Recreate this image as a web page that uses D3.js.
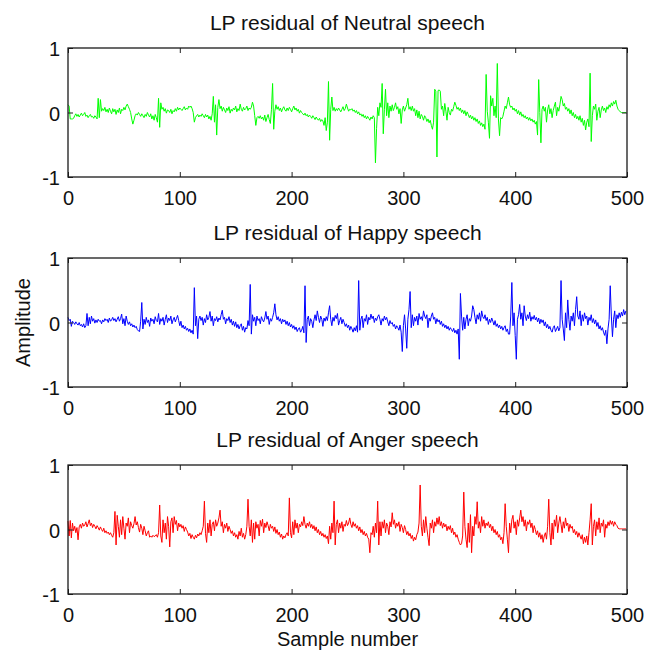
<!DOCTYPE html>
<html>
<head>
<meta charset="utf-8">
<script src="https://cdn.jsdelivr.net/npm/d3@7"></script>
<style>
  html, body { margin: 0; padding: 0; background: #fff; }
  svg { display: block; }
</style>
</head>
<body>
<div id="chart"></div>
<script>
// LP residual samples (one value per sample, 500 each)
const neutral = [
  0.12,0.10,-0.10,-0.10,-0.10,-0.09,
  -0.05,-0.02,-0.06,-0.03,-0.07,-0.04,-0.01,-0.05,-0.03,0.0,-0.06,-0.04,-0.08,-0.05,-0.03,-0.07,-0.06,-0.09,-0.05,-0.07,-0.10,
  0.22,-0.08,0.20,0.02,
  0.06,0.03,0.08,0.01,0.05,0.0,0.07,0.02,-0.02,0.06,0.01,0.05,-0.03,0.04,0.0,0.07,-0.02,0.05,0.03,0.08,0.04,0.10,0.13,0.09,0.05,0.0,-0.10,
  -0.18,-0.12,
  -0.05,-0.02,-0.04,0.0,-0.03,-0.06,-0.02,-0.05,-0.08,-0.03,-0.06,0.0,-0.04,-0.07,-0.02,-0.10,-0.05,-0.12,-0.03,-0.08,
  -0.15,0.22,-0.23,0.15,0.05,
  0.08,0.02,0.06,-0.01,0.04,0.03,0.0,0.05,-0.02,0.03,0.01,0.06,0.02,0.08,0.04,0.07,0.05,0.03,0.06,0.09,0.04,0.07,0.05,0.10,0.08,
  0.10,0.06,0.0,-0.15,-0.08,
  -0.05,-0.03,-0.07,-0.04,-0.06,-0.02,-0.05,-0.08,-0.03,-0.07,-0.04,-0.10,-0.06,-0.12,
  -0.02,0.25,-0.15,0.12,-0.35,0.08,0.20,
  0.06,0.10,0.02,0.08,0.04,0.0,0.07,0.03,0.09,-0.01,0.05,0.02,0.07,0.04,0.10,0.01,0.06,0.03,0.13,0.05,0.02,0.08,0.04,0.06,0.10,0.03,0.07,0.05,0.08,
  0.16,0.10,-0.05,-0.20,-0.08,
  -0.06,-0.09,-0.05,-0.10,-0.07,-0.12,-0.04,-0.14,-0.08,-0.03,-0.11,-0.17,
  0.05,0.45,-0.26,0.02,
  0.12,0.05,0.09,0.03,0.07,0.01,0.06,0.09,0.04,0.02,0.07,0.03,0.08,0.05,0.01,0.06,0.10,0.04,0.07,0.02,
  0.05,-0.01,0.03,0.0,-0.02,-0.04,-0.01,-0.05,-0.03,-0.07,-0.04,-0.06,-0.09,-0.05,-0.08,-0.11,-0.07,-0.10,-0.12,-0.09,-0.14,-0.11,
  -0.13,-0.20,-0.08,-0.28,-0.15,0.48,-0.43,0.05,0.24,0.03,
  0.08,0.02,0.06,0.03,0.07,0.04,0.01,0.05,0.09,0.03,0.06,0.13,0.07,0.02,0.05,0.04,
  0.06,0.02,0.04,0.0,0.03,-0.02,0.01,-0.04,-0.02,-0.06,-0.03,-0.08,-0.05,-0.10,-0.06,-0.09,-0.12,-0.07,-0.10,-0.05,-0.08,
  -0.78,-0.25,0.08,-0.05,0.15,0.08,0.45,-0.33,0.05,0.36,-0.05,0.15,-0.08,0.10,0.02,
  0.12,0.03,0.08,0.15,0.05,0.09,-0.02,0.06,-0.17,0.04,0.10,0.02,0.07,0.12,
  0.22,0.05,
  0.09,0.03,0.10,0.02,0.06,-0.05,0.04,-0.08,0.02,-0.10,-0.03,-0.06,-0.12,-0.05,-0.08,-0.14,-0.10,-0.16,-0.12,-0.20,-0.26,
  -0.15,0.36,0.33,-0.69,0.34,0.35,0.33,0.05,
  0.10,-0.05,0.14,0.02,-0.12,0.08,0.0,-0.04,0.05,0.02,0.09,0.16,0.11,0.05,0.08,0.03,0.07,0.0,0.04,-0.02,
  0.03,-0.05,0.01,-0.03,-0.08,-0.04,-0.10,-0.06,-0.12,-0.08,-0.14,-0.10,-0.17,-0.13,-0.20,-0.16,-0.22,-0.18,-0.26,
  0.59,0.02,-0.15,-0.40,0.26,0.10,0.22,-0.05,0.10,-0.08,0.76,-0.10,-0.36,-0.08,-0.10,-0.06,
  0.02,0.10,0.06,0.15,0.24,0.12,0.08,0.10,0.04,0.07,0.02,0.05,-0.02,0.03,-0.04,0.01,-0.06,-0.03,-0.08,-0.05,
  -0.10,-0.07,-0.12,-0.08,-0.13,-0.10,-0.15,-0.12,-0.18,-0.14,
  -0.35,0.51,0.0,-0.47,0.05,
  0.10,0.02,0.08,-0.15,0.04,0.12,-0.02,0.06,-0.08,0.03,0.10,0.16,-0.05,0.08,0.02,0.12,
  0.25,0.20,
  0.10,0.14,0.05,0.08,0.02,0.06,-0.02,0.04,-0.05,0.0,-0.08,-0.03,-0.10,-0.06,-0.12,-0.05,-0.15,-0.09,-0.20,-0.12,-0.27,-0.15,-0.10,-0.22,
  0.61,-0.45,-0.05,
  0.10,0.05,0.13,-0.12,0.02,0.08,-0.08,0.04,0.10,0.03,0.07,0.0,0.09,0.05,0.12,0.08,0.15,0.10,0.17,0.13,0.19,0.10,
  0.05,0.03,0.01,0.0,0.0,0.0,0.0,0.0
];

const happy = [
  0.08,0.03,0.05,-0.06,0.02,0.0,-0.03,0.01,-0.02,-0.04,0.0,-0.05,-0.03,-0.07,-0.02,-0.08,-0.05,
  0.14,-0.05,0.08,-0.02,0.10,
  0.02,0.06,-0.01,0.04,0.0,0.05,0.02,0.03,-0.02,0.04,0.01,0.06,0.03,0.05,0.0,0.07,0.02,0.04,0.08,0.03,0.06,0.01,0.05,0.09,0.02,0.06,
  0.13,-0.02,0.06,-0.05,0.10,0.02,
  -0.03,0.01,-0.05,-0.02,-0.07,-0.04,-0.08,-0.06,-0.11,-0.13,
  -0.14,0.02,0.31,-0.10,
  0.05,-0.03,0.08,0.0,0.04,-0.06,0.07,0.02,0.05,-0.02,0.09,0.03,0.01,0.14,-0.03,0.06,0.02,0.08,-0.04,0.05,
  0.12,0.0,0.07,0.03,0.10,-0.02,0.04,0.08,0.01,0.06,0.11,0.03,-0.05,0.02,
  -0.08,-0.04,-0.10,-0.06,-0.12,-0.09,-0.14,-0.10,-0.16,-0.12,-0.18,
  0.54,-0.05,0.10,-0.25,0.05,
  0.10,0.03,0.08,-0.04,0.06,0.0,0.12,0.04,0.08,0.17,0.02,0.10,-0.05,0.06,0.03,0.09,0.01,0.07,0.04,0.12,
  0.19,0.05,0.08,-0.02,0.06,0.03,0.09,0.0,0.05,-0.04,0.02,-0.06,0.01,-0.08,-0.03,-0.10,-0.05,-0.02,-0.12,-0.06,
  -0.15,-0.08,-0.10,0.03,-0.05,0.59,-0.18,0.12,0.02,
  0.08,-0.05,0.10,0.03,0.06,-0.02,0.09,0.04,0.01,0.07,0.17,0.05,0.10,-0.03,0.06,0.02,0.08,0.15,0.29,0.12,
  0.04,0.09,0.02,0.06,-0.02,0.05,0.01,0.04,-0.03,0.02,-0.05,0.0,-0.07,-0.03,-0.09,-0.05,-0.11,-0.07,-0.14,-0.10,
  -0.08,-0.15,-0.12,-0.06,-0.16,
  0.57,-0.31,0.05,
  0.10,-0.05,0.06,0.02,-0.08,0.04,0.12,0.03,0.18,0.08,0.0,0.10,0.05,-0.06,0.07,0.02,0.09,0.03,0.15,0.26,
  0.05,-0.05,0.08,0.02,0.11,0.06,0.14,-0.04,0.03,0.08,-0.02,0.05,0.0,-0.06,-0.02,-0.08,-0.04,-0.12,-0.06,-0.10,
  -0.15,-0.08,-0.13,-0.05,
  -0.15,0.65,-0.12,0.05,
  0.10,-0.08,0.06,0.02,0.12,-0.03,0.08,0.04,0.13,0.06,0.10,0.0,0.07,0.03,0.09,0.12,0.05,-0.04,0.06,0.02,
  0.10,0.04,0.08,0.01,-0.05,0.03,-0.02,0.0,-0.06,-0.03,-0.10,-0.05,-0.08,-0.12,-0.04,-0.15,
  -0.45,-0.05,0.12,-0.10,-0.40,0.05,0.20,0.48,-0.08,
  0.12,-0.05,0.08,0.02,0.10,-0.04,0.14,0.05,0.09,0.03,0.18,0.10,0.06,0.12,-0.08,0.07,0.02,0.10,0.15,0.05,
  0.08,-0.02,0.06,0.01,0.04,-0.03,0.02,-0.06,-0.02,-0.08,-0.04,-0.10,-0.06,-0.12,-0.08,-0.11,-0.14,-0.09,-0.16,-0.12,
  -0.18,-0.10,-0.57,0.45,0.10,-0.12,
  0.08,-0.10,0.05,0.12,-0.05,0.06,0.02,0.10,0.26,0.20,0.08,-0.02,0.12,0.05,0.15,0.02,0.18,0.09,0.06,0.12,
  0.03,0.08,-0.03,0.05,0.0,0.07,0.02,-0.04,0.03,-0.06,-0.02,-0.08,-0.04,-0.10,-0.06,-0.12,-0.08,-0.05,-0.14,-0.10,-0.18,
  -0.18,0.10,0.62,-0.05,0.15,-0.20,-0.57,0.05,0.12,0.28,
  0.05,0.15,-0.05,0.26,0.10,0.03,0.12,0.06,0.16,0.02,0.09,0.05,0.11,0.04,0.08,0.01,0.07,-0.02,0.05,0.0,
  0.04,-0.05,0.01,-0.08,-0.03,-0.10,-0.06,-0.12,-0.15,-0.08,-0.05,-0.14,-0.10,-0.06,-0.13,-0.08,
  0.65,0.05,-0.10,-0.28,0.15,-0.08,0.35,0.05,-0.12,
  0.10,0.02,0.15,-0.05,0.20,0.40,0.10,
  0.05,0.18,-0.05,0.12,0.02,0.15,0.06,0.10,-0.04,0.08,0.03,0.12,0.0,0.06,-0.02,0.04,-0.06,0.0,-0.10,-0.05,
  -0.12,-0.08,-0.15,-0.20,-0.12,
  -0.33,-0.10,0.05,0.57,0.10,-0.22,0.05,0.18,-0.08,0.12,
  0.06,0.15,0.08,0.16,0.10,0.20,0.12,0.18
];

const anger = [
  0.13,-0.10,0.14,-0.13,0.10,-0.02,0.05,-0.05,0.03,-0.16,0.04,
  0.08,0.02,0.10,0.05,0.07,0.12,0.04,0.09,0.15,0.06,0.10,0.03,0.08,0.05,0.01,0.06,0.03,-0.01,0.04,0.0,
  -0.03,0.02,-0.05,-0.02,-0.06,-0.04,-0.08,-0.05,-0.09,
  -0.12,-0.05,0.28,-0.24,0.22,0.05,-0.12,
  0.15,-0.08,0.20,0.02,-0.15,0.10,0.05,0.18,-0.05,0.12,0.06,0.02,0.09,0.20,0.07,0.12,0.03,-0.04,0.08,0.02,
  -0.08,0.05,-0.02,-0.10,-0.05,-0.02,-0.12,
  -0.10,-0.12,-0.09,-0.11,-0.10,-0.08,-0.12,-0.05,
  0.38,-0.10,-0.20,0.15,-0.05,0.10,-0.15,0.20,0.05,-0.27,0.12,0.18,-0.05,0.20,
  0.08,0.14,-0.02,0.10,0.04,0.08,0.02,0.06,-0.03,0.04,0.0,-0.04,-0.10,-0.06,-0.14,-0.08,
  -0.12,-0.15,-0.09,-0.13,-0.07,-0.10,-0.05,-0.08,-0.02,
  0.05,0.44,-0.06,-0.20,0.10,-0.05,0.15,-0.10,0.08,
  0.12,-0.02,0.15,0.05,0.10,0.18,0.30,0.05,
  0.12,-0.05,0.08,0.02,0.10,-0.03,0.05,0.0,-0.06,-0.02,-0.10,-0.05,-0.12,-0.08,-0.15,-0.03,-0.10,0.02,-0.12,-0.06,
  -0.15,-0.08,0.05,
  0.47,0.05,-0.10,0.15,-0.20,0.10,-0.15,0.12,0.02,
  0.08,-0.10,0.14,0.05,0.16,-0.05,0.10,0.03,0.12,0.06,-0.02,0.08,0.02,0.05,-0.03,0.04,-0.06,0.0,-0.08,-0.04,
  -0.12,-0.07,-0.15,-0.10,-0.13,-0.08,-0.05,-0.10,
  0.49,-0.05,-0.13,0.12,-0.08,0.15,
  0.02,0.10,-0.05,0.08,0.04,0.12,0.06,0.20,0.08,0.02,0.10,0.05,0.12,0.03,0.08,0.01,0.06,-0.02,0.04,-0.05,
  0.0,-0.08,-0.03,-0.10,-0.06,-0.12,-0.08,-0.14,-0.10,
  -0.22,0.05,-0.15,0.10,-0.05,0.44,-0.24,0.08,
  0.15,-0.05,0.10,0.02,0.12,-0.03,0.08,0.05,0.14,0.06,0.10,0.18,0.08,0.03,0.12,0.05,0.09,0.02,0.06,-0.02,
  0.04,-0.05,0.0,-0.08,-0.03,-0.10,-0.06,-0.12,-0.15,
  -0.36,-0.05,-0.08,0.05,-0.12,0.10,-0.05,0.44,-0.24,0.12,-0.10,0.12,
  0.02,0.15,-0.05,0.10,0.05,-0.08,0.12,0.04,0.26,0.08,0.15,0.02,0.10,0.05,0.12,-0.03,0.08,0.03,-0.05,0.06,
  0.0,-0.08,-0.03,-0.10,-0.06,-0.14,-0.09,-0.18,-0.12,-0.16,-0.08,-0.04,
  0.10,0.69,0.05,-0.10,0.15,-0.05,0.20,0.02,-0.12,-0.25,
  0.10,0.02,0.15,-0.05,0.12,0.05,0.18,0.08,0.20,0.06,0.12,0.02,0.10,0.04,0.08,-0.02,0.05,0.0,0.06,-0.05,
  0.02,-0.08,-0.04,-0.12,-0.08,-0.15,-0.20,-0.24,-0.22,
  -0.10,0.58,0.05,-0.15,-0.28,0.10,-0.20,0.23,-0.36,0.05,-0.10,0.20,0.08,0.43,0.02,
  0.12,-0.05,0.20,0.05,0.15,0.02,0.10,0.06,0.12,0.03,0.08,-0.02,0.05,-0.05,0.0,-0.08,-0.03,-0.12,-0.08,-0.16,
  -0.12,-0.22,
  -0.05,0.40,0.05,-0.15,-0.36,0.10,-0.05,0.15,0.22,0.02,0.12,-0.08,0.15,0.05,0.18,0.30,0.12,
  0.20,0.05,0.15,-0.02,0.12,0.08,0.15,0.03,0.10,-0.05,0.06,0.0,-0.08,-0.02,-0.12,-0.05,-0.15,-0.08,-0.20,-0.10,
  -0.05,-0.15,0.05,
  0.47,-0.05,-0.24,0.10,-0.15,
  0.15,0.05,0.22,-0.05,0.10,0.20,0.08,-0.05,0.12,0.02,0.18,0.06,0.10,-0.03,0.08,0.02,0.05,-0.05,0.0,-0.08,
  -0.03,-0.12,-0.05,-0.10,-0.15,-0.08,-0.22,-0.12,-0.20,-0.10,-0.24,-0.05,
  0.15,0.40,-0.24,0.05,
  0.15,-0.10,0.12,0.0,0.18,-0.05,0.10,0.05,0.15,-0.12,0.08,0.02,0.12,0.06,0.14,0.08,0.13,0.05,0.12,0.08,
  0.06,0.02,
  0.01,0.01,0.01,0.01,0.01,0.01,0.01
];

const titles = ['LP residual of Neutral speech', 'LP residual of Happy speech', 'LP residual of Anger speech'];
const colors = ['#00ff00', '#0000ff', '#ff0000'];
const xTicks = [0, 100, 200, 300, 400, 500];
const yTicks = [-1, 0, 1];

const W = 646, H = 660;
const left = 68, right = 627;
const tops = [48, 258, 465], ph = 129;
const font = 'Liberation Sans, Arial, Helvetica, sans-serif';

const svg = d3.select('#chart').append('svg').attr('width', W).attr('height', H)
  .style('font-family', font);

const x = d3.scaleLinear().domain([0, 500]).range([left, right]);
const plain = d => String(d);   // hyphen minus like the original, not U+2212

[neutral, happy, anger].forEach((series, k) => {
  const top = tops[k], bot = top + ph;
  const y = d3.scaleLinear().domain([-1, 1]).range([bot, top]);
  const g = svg.append('g');

  // signal
  g.append('path')
    .datum(series)
    .attr('fill', 'none').attr('stroke', colors[k]).attr('stroke-width', 1)
    .attr('stroke-linejoin', 'round')
    .attr('d', d3.line().x((d, i) => x(i)).y(d => y(d)));

  // inward ticks on all four sides
  const ax = (a, t) => a.tickValues(t).tickSizeInner(-5).tickSizeOuter(0);
  const bottom = g.append('g').attr('transform', `translate(0,${bot})`)
    .call(ax(d3.axisBottom(x), xTicks).tickPadding(14).tickFormat(plain));
  g.append('g').attr('transform', `translate(0,${top})`)
    .call(ax(d3.axisTop(x), xTicks).tickFormat(''));
  const leftAx = g.append('g').attr('transform', `translate(${left},0)`)
    .call(ax(d3.axisLeft(y), yTicks).tickPadding(8).tickFormat(plain));
  g.append('g').attr('transform', `translate(${right},0)`)
    .call(ax(d3.axisRight(y), yTicks).tickFormat(''));

  g.selectAll('.domain').remove();
  g.selectAll('.tick line').attr('stroke', '#222').attr('stroke-width', 1);
  [bottom, leftAx].forEach(a => a.selectAll('text')
    .attr('fill', '#111').style('font-size', '20px').style('font-family', font));
  leftAx.selectAll('text').attr('dy', '0.38em');

  // frame
  g.append('rect').attr('x', left).attr('y', top)
    .attr('width', right - left).attr('height', ph)
    .attr('fill', 'none').attr('stroke', '#1a1a1a').attr('stroke-width', 1.3);

  g.append('text').attr('x', (left + right) / 2).attr('y', top - 18)
    .attr('text-anchor', 'middle').attr('fill', '#111')
    .style('font-size', '21px').text(titles[k]);
});

svg.append('text')
  .attr('transform', `translate(30,${tops[1] + ph / 2}) rotate(-90)`)
  .attr('text-anchor', 'middle').attr('fill', '#111')
  .style('font-size', '20px').text('Amplitude');

svg.append('text').attr('x', (left + right) / 2).attr('y', 646)
  .attr('text-anchor', 'middle').attr('fill', '#111')
  .style('font-size', '20px').text('Sample number');
</script>
</body>
</html>
